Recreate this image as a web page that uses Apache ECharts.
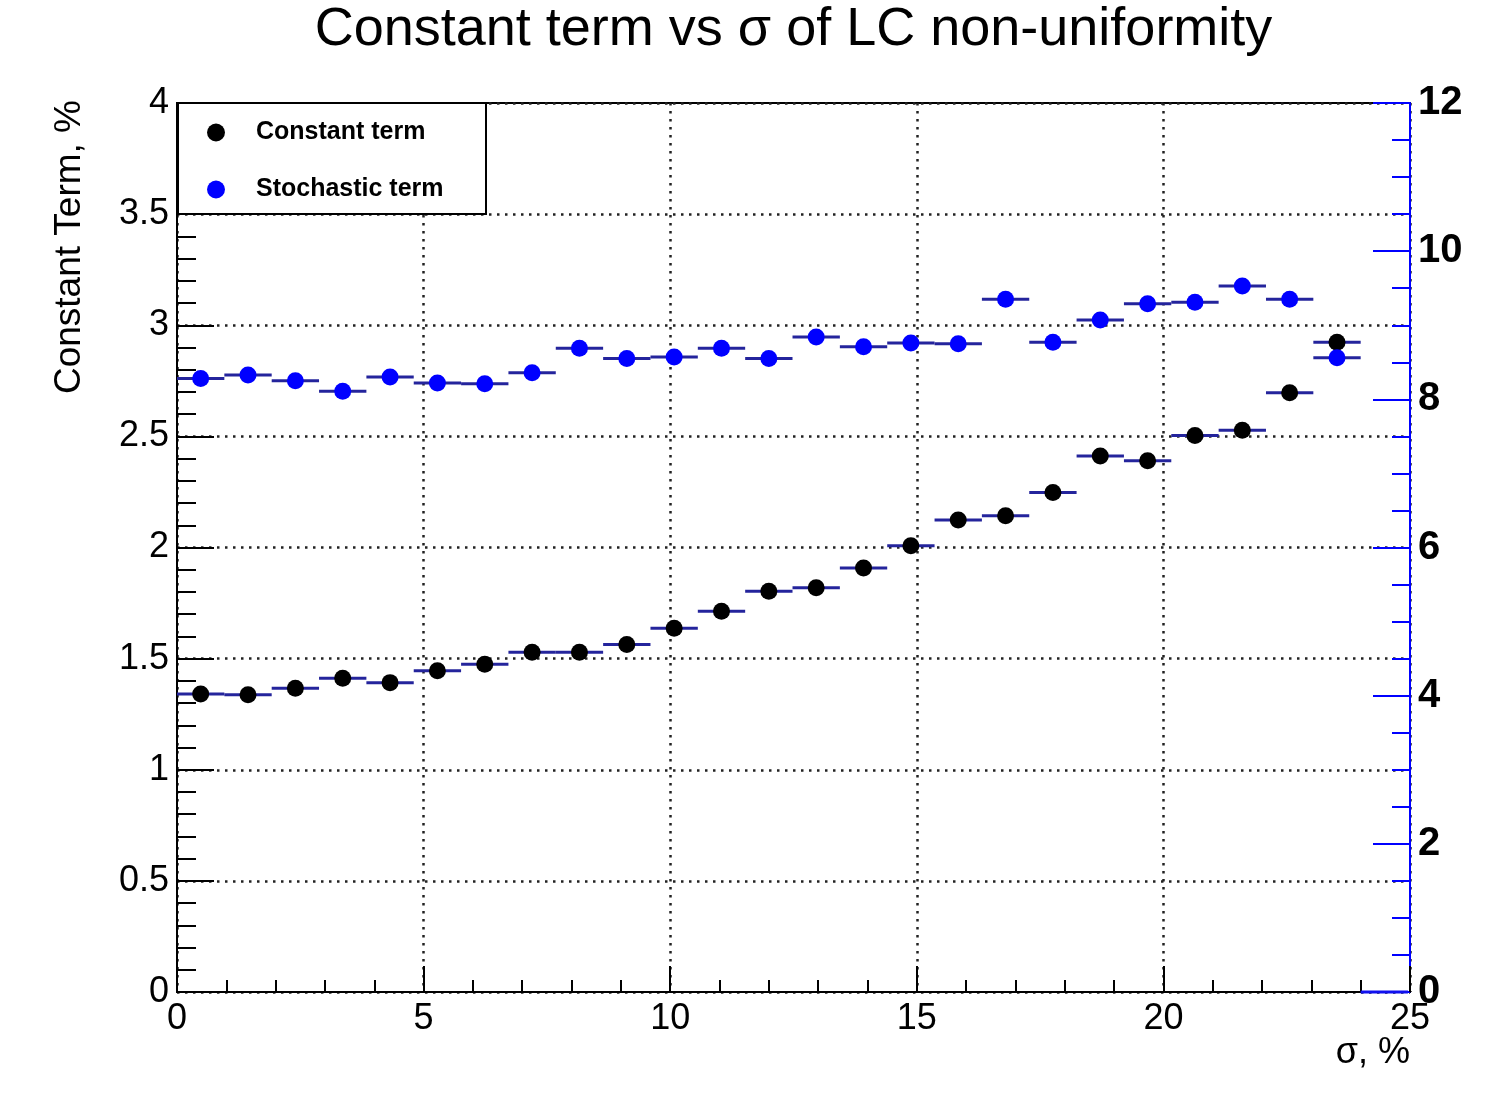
<!DOCTYPE html>
<html>
<head>
<meta charset="utf-8">
<script src="https://cdn.jsdelivr.net/npm/echarts@6/dist/echarts.min.js"></script>
<style>
html,body{margin:0;padding:0;background:#fff;}
#chart{width:1492px;height:1096px;}
</style>
</head>
<body>
<div id="chart"></div>
<script>
// Bin centers (sigma, %)
const sigmaCenters = [0.48, 1.44, 2.40, 3.36, 4.32, 5.28, 6.24, 7.20, 8.16, 9.12, 10.08, 11.04, 12.00, 12.96, 13.92, 14.88, 15.84, 16.80, 17.76, 18.72, 19.68, 20.64, 21.60, 22.56, 23.52];
const binHalfWidth = 0.48;
// Constant term, % (left axis)
const constantTerm = [1.341, 1.337, 1.367, 1.412, 1.392, 1.445, 1.475, 1.529, 1.529, 1.564, 1.637, 1.713, 1.803, 1.819, 1.908, 2.008, 2.124, 2.143, 2.247, 2.412, 2.390, 2.504, 2.528, 2.696, 2.923];
// Stochastic term (right axis)
const stochasticTerm = [8.28, 8.33, 8.25, 8.11, 8.30, 8.22, 8.21, 8.36, 8.69, 8.55, 8.57, 8.69, 8.55, 8.84, 8.71, 8.76, 8.75, 9.35, 8.77, 9.07, 9.29, 9.31, 9.53, 9.35, 8.56];
// Empty last bin of the stochastic histogram (drawn only as its bin-width bar)
const emptyBinCenters = [24.48];
const emptyBinValues = [0];
const seriesNames = ['Constant term', 'Stochastic term'];
const titleText = 'Constant term vs σ of LC non-uniformity';

const FONT = 'Liberation Sans, Arial, Helvetica, sans-serif';
const constData = sigmaCenters.map((x, i) => [x, constantTerm[i]]);
const stochData = sigmaCenters.map((x, i) => [x, stochasticTerm[i]]);
const emptyData = emptyBinCenters.map((x, i) => [x, emptyBinValues[i]]);

// center the title over the plot frame
const GRID_L = 177, GRID_R = 82, W = 1492;
const plotCenter = GRID_L + (W - GRID_L - GRID_R) / 2;
const mctx = document.createElement('canvas').getContext('2d');
mctx.font = '54px ' + FONT;
const titleW = mctx.measureText(titleText).width;

function makeErrBar(color) {
  return function (params, api) {
    const x = api.value(0), y = api.value(1);
    const a = api.coord([x - binHalfWidth, y]);
    const b = api.coord([x + binHalfWidth, y]);
    return {
      type: 'line',
      shape: {x1: a[0], y1: a[1], x2: b[0], y2: b[1]},
      style: {stroke: color, lineWidth: 3}
    };
  };
}

const gridLine = {show: true, lineStyle: {color: '#222', width: 2.5, type: [2.5, 5.5]}};

const chart = echarts.init(document.getElementById('chart'), null, {renderer: 'canvas'});
chart.setOption({
  backgroundColor: '#fff',
  animation: false,
  title: {
    text: titleText,
    left: plotCenter - titleW / 2,
    top: 3,
    padding: 0,
    textStyle: {fontFamily: FONT, fontSize: 54, fontWeight: 'normal', color: '#000'}
  },
  grid: {
    left: GRID_L, right: GRID_R, top: 103, bottom: 104,
    outerBoundsMode: 'none',
    containLabel: false,
    show: true, borderColor: '#000', borderWidth: 2, backgroundColor: 'transparent'
  },
  legend: {
    data: seriesNames,
    orient: 'vertical',
    left: 207,
    top: 120,
    padding: 0,
    itemGap: 32,
    itemWidth: 18,
    itemHeight: 18,
    icon: 'circle',
    z: 10,
    textStyle: {fontFamily: FONT, fontSize: 25, fontWeight: 'bold', color: '#000', padding: [0, 0, 0, 26]}
  },
  xAxis: {
    type: 'value',
    min: 0, max: 25, interval: 5,
    axisLine: {show: true, onZero: false, lineStyle: {color: '#000', width: 2}},
    axisTick: {show: true, inside: true, length: 26, lineStyle: {color: '#000', width: 2}},
    minorTick: {show: true, splitNumber: 5, length: 12, lineStyle: {color: '#000', width: 2}},
    axisLabel: {fontFamily: FONT, fontSize: 36, color: '#000', margin: 9},
    splitLine: gridLine
  },
  yAxis: [{
    type: 'value',
    min: 0, max: 4, interval: 0.5,
    position: 'left',
    axisLine: {show: true, onZero: false, lineStyle: {color: '#000', width: 2}},
    axisTick: {show: true, inside: true, length: 37, lineStyle: {color: '#000', width: 2}},
    minorTick: {show: true, splitNumber: 5, length: 19, lineStyle: {color: '#000', width: 2}},
    axisLabel: {fontFamily: FONT, fontSize: 36, color: '#000', margin: 8},
    splitLine: gridLine
  }, {
    type: 'value',
    min: 0, max: 12, interval: 2,
    position: 'right',
    axisLine: {show: true, onZero: false, lineStyle: {color: '#0000ff', width: 2}},
    axisTick: {show: true, inside: true, length: 37, lineStyle: {color: '#0000ff', width: 2}},
    minorTick: {show: true, splitNumber: 4, length: 18, lineStyle: {color: '#0000ff', width: 2}},
    axisLabel: {fontFamily: FONT, fontSize: 40, fontWeight: 'bold', color: '#000', margin: 8},
    splitLine: {show: false}
  }],
  graphic: [{
    type: 'rect',
    z: 3,
    shape: {x: 178, y: 103, width: 308, height: 111},
    style: {fill: '#fff', stroke: '#000', lineWidth: 2}
  }, {
    type: 'text',
    z: 5,
    x: 70, y: 100,
    rotation: Math.PI / 2,
    style: {text: 'Constant Term, %', fontFamily: FONT, fontSize: 37, fill: '#000', align: 'right', verticalAlign: 'middle'}
  }, {
    type: 'text',
    z: 5,
    x: 1410, y: 1053,
    style: {text: 'σ, %', fontFamily: FONT, fontSize: 36, fill: '#000', align: 'right', verticalAlign: 'middle'}
  }],
  series: [{
    type: 'custom', name: 'Constant term error', xAxisIndex: 0, yAxisIndex: 0,
    data: constData, renderItem: makeErrBar('#24249c'), z: 2, silent: true
  }, {
    type: 'custom', name: 'Stochastic term error', xAxisIndex: 0, yAxisIndex: 1,
    data: stochData, renderItem: makeErrBar('#24249c'), z: 2, silent: true
  }, {
    type: 'custom', name: 'Stochastic term empty bin', xAxisIndex: 0, yAxisIndex: 1,
    data: emptyData, renderItem: makeErrBar('#1010f0'), z: 6, silent: true
  }, {
    type: 'scatter', name: seriesNames[0], xAxisIndex: 0, yAxisIndex: 0,
    data: constData, symbol: 'circle', symbolSize: 17, z: 4,
    itemStyle: {color: '#000', opacity: 1}
  }, {
    type: 'scatter', name: seriesNames[1], xAxisIndex: 0, yAxisIndex: 1,
    data: stochData, symbol: 'circle', symbolSize: 17, z: 4,
    itemStyle: {color: '#0000ff', opacity: 1}
  }]
});
</script>
</body>
</html>
